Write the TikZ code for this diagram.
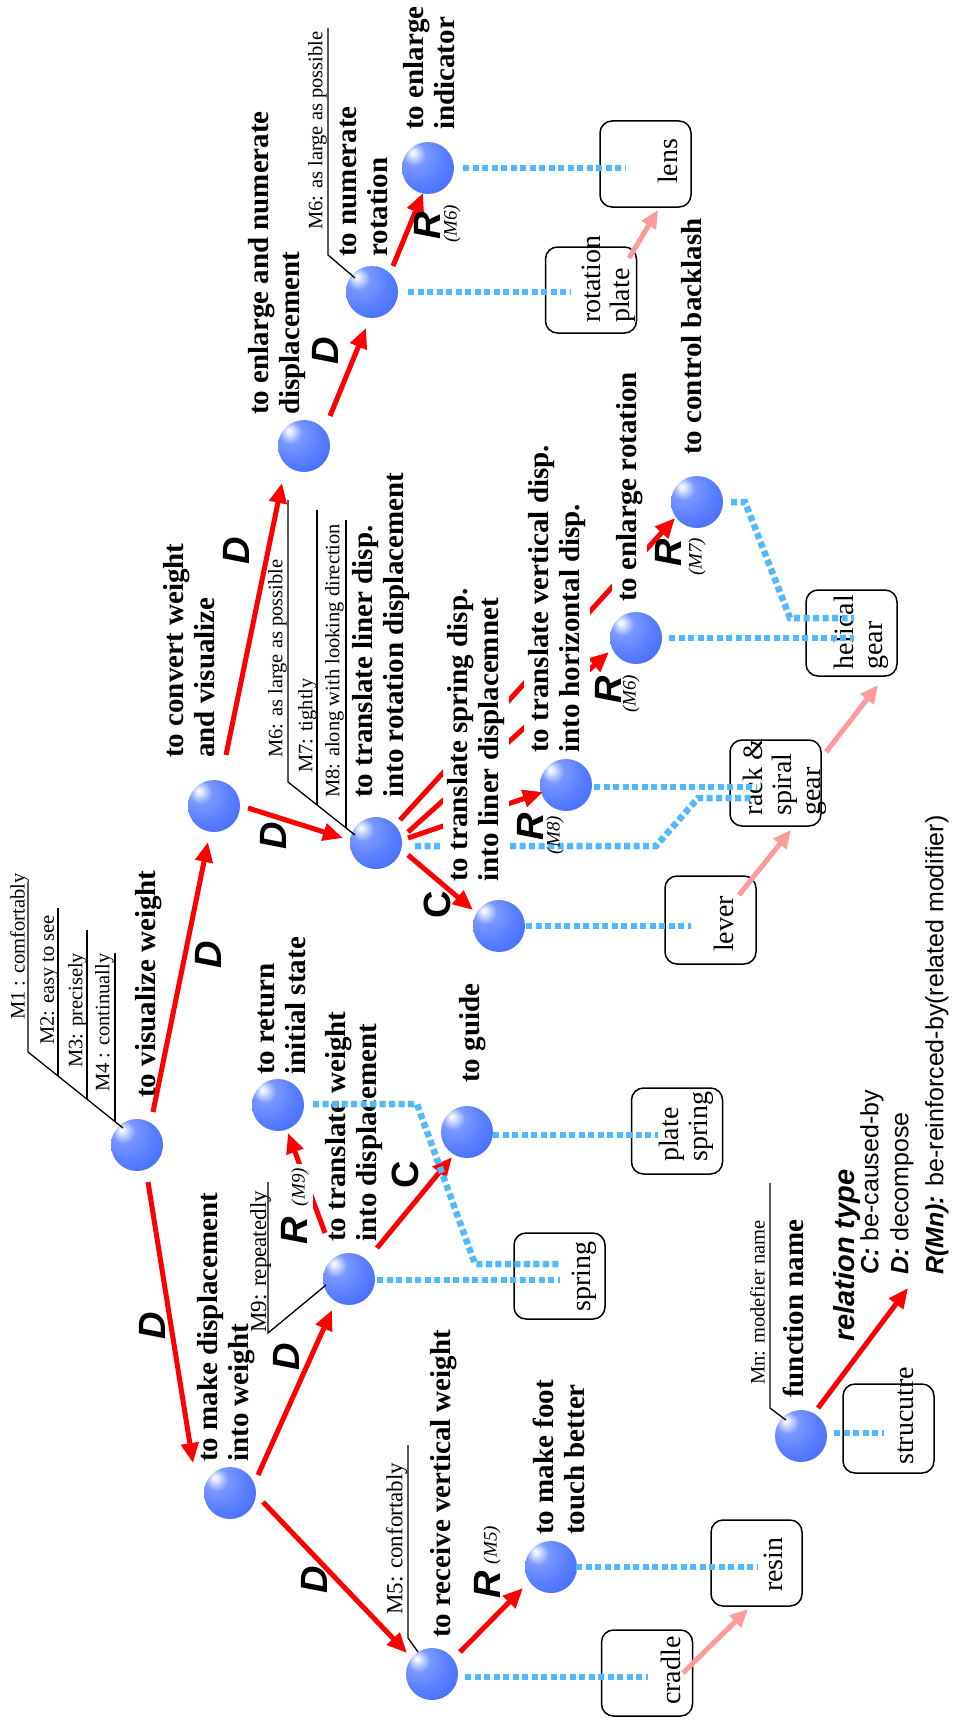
\documentclass[tikz,border=0pt]{standalone}
\usepackage{fontspec}
\setmainfont{Liberation Serif}
\setsansfont{Liberation Sans}
\usetikzlibrary{arrows.meta,calc}
\definecolor{ared}{RGB}{255,0,0}
\definecolor{apink}{RGB}{255,155,155}
\definecolor{lblue}{RGB}{80,185,255}
\definecolor{sphA}{RGB}{225,232,255}
\definecolor{sphB}{RGB}{120,152,255}
\definecolor{sphC}{RGB}{88,126,255}
\definecolor{sphD}{RGB}{62,100,250}
\pgfdeclareradialshading{sphshade}{\pgfpoint{-15bp}{15bp}}{%
  color(0bp)=(white); color(3bp)=(sphA); color(11bp)=(sphB);
  color(26bp)=(sphC); color(46bp)=(sphD); color(80bp)=(sphD)}
\tikzset{
  sph/.style={circle, minimum size=52pt, inner sep=0pt, shade, shading=sphshade},
  lab/.style={rotate=90, anchor=north west, inner sep=0pt, align=left,
    font=\fontsize{29}{31}\selectfont\bfseries},
  labw/.style={lab, fill=white, inner sep=4.5pt},
  mod/.style={rotate=90, anchor=north west, inner sep=0pt, font=\fontsize{20.5}{22}\selectfont},
  modb/.style={mod, font=\fontsize{23}{25}\selectfont},
  boxtxt/.style={rotate=90, anchor=north west, inner sep=0pt, align=left,
    font=\fontsize{28}{29}\selectfont},
  sbox/.style={draw=black, line width=1.5pt, rounded corners=12pt,
    minimum width=91pt, minimum height=86pt, inner sep=0pt},
  big/.style={rotate=90, inner sep=0pt, font=\fontsize{38}{38}\selectfont\sffamily\bfseries\itshape},
  bigC/.style={rotate=90, inner sep=0pt, font=\fontsize{38}{38}\selectfont\sffamily\bfseries},
  msub/.style={rotate=90, inner sep=0pt, font=\fontsize{19}{19}\selectfont\itshape},
  legt/.style={rotate=90, anchor=north west, inner sep=0pt,
    font=\fontsize{29}{31}\selectfont\sffamily\bfseries\itshape},
  legs/.style={rotate=90, anchor=north west, inner sep=0pt,
    font=\fontsize{25}{27}\selectfont\sffamily},
  rarr/.style={draw=ared, line width=5pt, -{Triangle[length=20pt,width=17pt]}},
  parr/.style={draw=apink, line width=5pt, -{Triangle[length=18pt,width=16pt]}},
  bdot/.style={draw=lblue, line width=6.5pt, dash pattern=on 6pt off 3.5pt},
  mline/.style={draw=black, line width=1.3pt},
}
\begin{document}
\begin{tikzpicture}[x=1pt,y=-1pt]
\useasboundingbox (0,0) rectangle (953,1731);

% ---------- function spheres
\node[sph] (ei)  at (428,168) {};
\node[sph] (nr)  at (372,292) {};
\node[sph] (en)  at (304,446) {};
\node[sph] (cv)  at (214,806) {};
\node[sph] (hub) at (376,843) {};
\node[sph] (cb)  at (697,502) {};
\node[sph] (er)  at (636,638) {};
\node[sph] (tv)  at (566,785) {};
\node[sph] (ts)  at (499,926) {};
\node[sph] (vw)  at (137,1145) {};
\node[sph] (ret) at (278,1105) {};
\node[sph] (gd)  at (467,1132) {};
\node[sph] (tw)  at (349,1279) {};
\node[sph] (mdw) at (230,1493) {};
\node[sph] (rv)  at (432,1674) {};
\node[sph] (mf)  at (551,1567) {};
\node[sph] (lg)  at (801,1436) {};

% ---------- structure boxes
\node[sbox] (bLens) at (645.5,164) {};
\node[sbox] (bRot) at (591,290) {};
\node[sbox] (bRack) at (775.5,783) {};
\node[sbox] (bHel) at (851.5,633) {};
\node[sbox, minimum height=88pt] (bLev) at (710.5,920) {};
\node[sbox] (bPlate) at (677,1131) {};
\node[sbox] (bSpr) at (559.5,1276) {};
\node[sbox] (bRes) at (756.5,1563) {};
\node[sbox] (bCra) at (647,1673) {};
\node[sbox, minimum height=89pt] (bStr) at (888.5,1428.5) {};

\node[boxtxt] (tLens) at (658,184) {lens};
\node[boxtxt] (tRot) at (582,323) {rotation\\plate};
\node[boxtxt] (tRack) at (743,816) {rack \&\\spiral\\gear};
\node[boxtxt] (tHel) at (834,670) {helical\\gear};
\node[boxtxt] (tLev) at (714,952) {lever};
\node[boxtxt] (tPlate) at (659,1162) {plate\\spring};
\node[boxtxt] (tSpr) at (572,1312) {spring};
\node[boxtxt] (tRes) at (764,1592) {resin};
\node[boxtxt] (tCra) at (661,1705) {cradle};
\node[boxtxt] (tStr) at (898,1465) {strucutre};

% ---------- connectors partly hidden behind labels
\draw[bdot] ($(hub)+(39,3)$) -- ++(241,0) -- ++(42,-48) -- ($(bRack)+(-22.5,15)$);
\draw[rarr] ($(hub)+(32,-5)$) -- ($(tv)+(-23,7)$);
\draw[rarr] ($(hub)+(32,-11)$) -- ($(er)+(-27,14)$);
\draw[rarr] ($(hub)+(24,-23)$) -- ($(cb)+(-22,16)$);
\draw[rarr] ($(tw)+(-24,-46)$) -- ($(ret)+(10,28)$);

\node[labw] (Lts) at (442.5,886.5) {to translate spring disp.\\into liner displacemnet};
\node[labw] (Ltv) at (523.5,757.5) {to translate vertical disp.\\into horizontal disp.};
\node[labw] (Ler) at (611.5,606.5) {to enlarge rotation};
\node[msub, fill=white, inner sep=4pt] (sM9) at (300,1187) {(M9)};

% ---------- function labels
\node[lab] (Lvw) at (135,1098) {to visualize weight};
\node[lab] (Lret) at (258,1075) {to return\\initial state};
\node[lab] (Ltw) at (325,1242) {to translate weight\\into displacement};
\node[lab] (Lgd) at (459,1083) {to guide};
\node[lab] (Lmdw) at (197,1462) {to make displacement\\into weight};
\node[lab] (Lrv) at (430,1638) {to receive vertical weight};
\node[lab] (Lmf) at (533,1535) {to make foot\\touch better};
\node[lab] (Len) at (248,415) {to enlarge and numerate\\displacement};
\node[lab] (Lnr) at (340,257) {to numerate\\rotation};
\node[lab] (Lei) at (403,130) {to enlarge\\indicator};
\node[lab] (Lcb) at (681,455) {to control backlash};
\node[lab] (Lcv) at (163,758) {to convert weight\\and visualize};
\node[lab] (Lhub) at (352,798) {to translate liner disp.\\into rotation displacement};
\node[lab] (Llg) at (783,1398) {function name};

% ---------- modifiers
\node[mod] (m1) at (10,1020) {M1 : comfortably};
\node[mod] (m2) at (40,1045) {M2: easy to see};
\node[mod] (m3) at (68,1068) {M3: precisely};
\node[mod] (m4) at (95,1092) {M4 : continually};
\node[modb] (m9) at (250,1333) {M9: repeatedly};
\node[modb] (m5) at (386,1615) {M5: confortably};
\node[mod] (m6a) at (308,230) {M6: as large as possible};
\node[mod] (m6b) at (268,758) {M6: as large as possible};
\node[mod] (m7) at (298,773) {M7: tightly};
\node[mod] (m8) at (325,798) {M8: along with looking direction};
\node[mod] (mn) at (750,1385) {Mn: modefier name};

\draw[mline] ($(vw)+(-14,-17)$) -- ++(-95,-76) -- ++(0,-169);
\draw[mline] (58,1076) -- (58,908);
\draw[mline] (87,1099) -- (87,930);
\draw[mline] (115,1122) -- (115,953);
\draw[mline] ($(nr)+(-17,-14)$) -- ++(-27,-23) -- ++(0,-227);
\draw[mline] ($(hub)+(-21,-8)$) -- ++(-67,-53) -- ++(0,-282);
\draw[mline] (317,805) -- (317,510);
\draw[mline] (346,828) -- (346,520);
\draw[mline] ($(tw)+(-23,6)$) -- ++(-58,48) -- ++(0,-151);
\draw[mline] ($(rv)+(-14,-22)$) -- ++(-10,-14) -- ++(0,-193);
\draw[mline] ($(lg)+(-15,-16)$) -- ++(-16,-12) -- ++(0,-225);

% ---------- relation arrows
\draw[rarr] ($(vw)+(11,37)$) -- ($(mdw)+(-37,-30)$);
\draw[rarr] ($(vw)+(16,-33)$) -- ($(cv)+(-6,36)$);
\draw[rarr] ($(cv)+(12,-51)$) -- ($(en)+(-22,37)$);
\draw[rarr] ($(cv)+(34,2)$) -- ($(hub)+(-33,-5)$);
\draw[rarr] ($(en)+(26,-30)$) -- ($(nr)+(-6,36)$);
\draw[rarr] ($(nr)+(21,-26)$) -- ($(ei)+(-5,25)$);
\draw[rarr] ($(hub)+(32,12)$) -- ($(ts)+(-26,-16)$);
\draw[rarr] ($(mdw)+(28,-18)$) -- ($(tw)+(-17,31)$);
\draw[rarr] ($(mdw)+(33,9)$) -- ($(rv)+(-25,-21)$);
\draw[rarr] ($(tw)+(28,-31)$) -- ($(gd)+(-15,25)$);
\draw[rarr] ($(rv)+(28,-22)$) -- ($(mf)+(-28,21)$);
\coordinate (legEnd) at (908,1288);
\draw[rarr] ($(lg)+(17,-28)$) -- (legEnd);

% relation letters
\node[big] (dA) at (152,1326) {D};
\node[big] (dB) at (208,955) {D};
\node[big] (dC) at (236,551) {D};
\node[big] (dD) at (273,836) {D};
\node[big] (dE) at (325,351) {D};
\node[big] (dF) at (286,1357) {D};
\node[big] (dG) at (314,1580) {D};
\node[bigC] (cA) at (437,905) {C};
\node[bigC] (cB) at (405,1175) {C};
\node[big] (rA) at (294,1231) {R};
\node[big] (rB) at (487,1585) {R};
\node[big] (rC) at (427,226) {R};
\node[big] (rD) at (530,827) {R};
\node[big] (rE) at (608,690) {R};
\node[big] (rF) at (668,553) {R};
\node[msub] (sM5) at (492,1545) {(M5)};
\node[msub] (sM6a) at (452,224) {(M6)};
\node[msub] (sM8) at (555,835) {(M8)};
\node[msub] (sM6b) at (631,694) {(M6)};
\node[msub] (sM7) at (697,557) {(M7)};

% ---------- structure relations
\draw[parr] ($(bRot)+(38,-32)$) -- ($(bLens)+(12.5,46)$);
\draw[parr] ($(bLev)+(28.5,-25)$) -- ($(bRack)+(15.5,47)$);
\draw[parr] ($(bRack)+(50.5,-31)$) -- ($(bHel)+(26.5,52)$);
\draw[parr] ($(bCra)+(36,0)$) -- ($(bRes)+(-8.5,46)$);

% ---------- function-structure links
\draw[bdot] ($(ei)+(35,0)$) -- ($(bLens)+(-19.5,4)$);
\draw[bdot] ($(nr)+(36,0)$) -- ($(bRot)+(-20,2)$);
\draw[bdot] ($(cb)+(34,0)$) -- ++(14,0) -- ++(45,116) -- ($(bHel)+(2.5,-15)$);
\draw[bdot] ($(er)+(33,0)$) -- ($(bHel)+(2.5,5)$);
\draw[bdot] ($(tv)+(28,2)$) -- ($(bRack)+(-19.5,4)$);
\draw[bdot] ($(ts)+(27,0)$) -- ($(bLev)+(-19.5,6)$);
\draw[bdot] ($(gd)+(26,3)$) -- ($(bPlate)+(-19,4)$);
\draw[bdot] ($(ret)+(35,-1)$) -- ++(104,0) -- ++(58,160) -- ($(bSpr)+(0.5,-12)$);
\draw[bdot] ($(tw)+(28,1)$) -- ($(bSpr)+(0.5,4)$);
\draw[bdot] ($(mf)+(25,0)$) -- ($(bRes)+(1.5,4)$);
\draw[bdot] ($(rv)+(33,3)$) -- ($(bCra)+(1,4)$);
\draw[bdot] ($(lg)+(33,-3)$) -- ($(bStr)+(-4.5,4.5)$);

% ---------- legend
\node[legt] (Lrel) at (833,1342) {relation type};
\node[legs] (LC) at (860,1275) {{\bfseries\itshape C:} be-caused-by};
\node[legs] (LD) at (890,1275) {{\bfseries\itshape D:} decompose};
\node[legs] (LR) at (925,1275) {{\bfseries\itshape R(Mn):} be-reinforced-by(related modifier)};
\end{tikzpicture}
\end{document}
